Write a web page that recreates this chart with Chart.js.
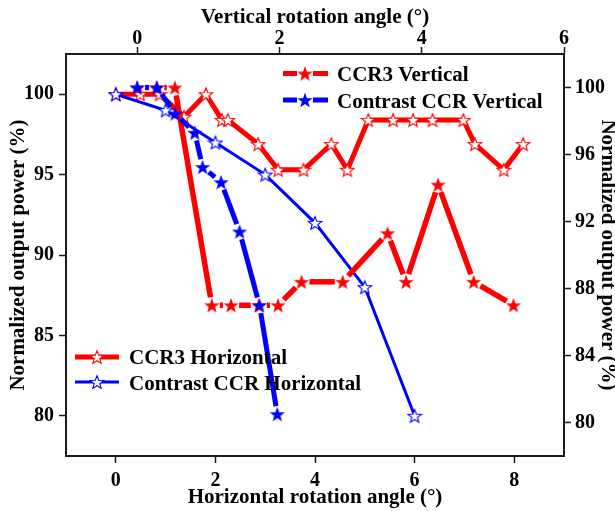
<!DOCTYPE html>
<html>
<head>
<meta charset="utf-8">
<script src="https://cdn.jsdelivr.net/npm/chart.js@4.4.1/dist/chart.umd.min.js"></script>
<style>
html,body{margin:0;padding:0;background:#fff;}
#wrap{position:relative;width:615px;height:511px;}
</style>
</head>
<body>
<div id="wrap"><canvas id="c" width="615" height="511"></canvas></div>
<script>
// ---- data ----
// Horizontal series: bottom axis (horizontal angle) vs left axis
const hAngleCCR3 = [0, 0.49, 0.88, 1.37, 1.81, 2.13, 2.25, 2.86, 3.26, 3.77, 4.33, 4.65, 5.07, 5.57, 5.97, 6.36, 6.98, 7.21, 7.79, 8.18];
const hPowerCCR3 = [100, 100, 100, 98.6, 100, 98.4, 98.4, 96.9, 95.3, 95.3, 96.9, 95.3, 98.4, 98.4, 98.4, 98.4, 98.4, 96.9, 95.3, 96.9];
const hAngleContrast = [0, 1, 2, 3, 4, 5, 6];
const hPowerContrast = [100, 99, 97, 95, 92, 88, 80];
// Vertical series: top axis (vertical angle) vs right axis
const vAngleCCR3 = [0, 0.27, 0.53, 1.05, 1.32, 1.71, 1.98, 2.31, 2.89, 3.52, 3.78, 4.23, 4.73, 5.29];
const vPowerCCR3 = [100, 100, 100, 87, 87, 87, 87, 88.4, 88.4, 91.3, 88.4, 94.2, 88.4, 87];
const vAngleContrast = [0, 0.28, 0.535, 0.81, 0.92, 1.18, 1.44, 1.72, 1.97];
const vPowerContrast = [100, 100, 98.45, 97.3, 95.25, 94.35, 91.4, 87.0, 80.5];

const bottomTicks = [0, 2, 4, 6, 8];
const topTicks = [0, 2, 4, 6];
const leftTicks = [80, 85, 90, 95, 100];
const rightTicks = [80, 84, 88, 92, 96, 100];

const seriesNames = ['CCR3 Vertical', 'Contrast CCR Vertical', 'CCR3 Horizontal', 'Contrast CCR Horizontal'];
const axisTitles = {
  bottom: 'Horizontal rotation angle (°)',
  top: 'Vertical rotation angle (°)',
  left: 'Normalized output power (%)',
  right: 'Normalized output power (%)'
};

// ---- styling ----
const RED = '#ff0000', BLUE = '#0000ff', AX = '#1a1a1a';
const FAM = '"Liberation Serif", "Times New Roman", serif';

function starCanvas(size, R, r, fill, stroke, lw) {
  const c = document.createElement('canvas');
  c.width = c.height = size;
  const g = c.getContext('2d');
  const cx = size / 2, cy = size / 2 + R * 0.1;
  g.beginPath();
  for (let i = 0; i < 10; i++) {
    const a = -Math.PI / 2 + i * Math.PI / 5;
    const rad = i % 2 === 0 ? R : r;
    g.lineTo(cx + rad * Math.cos(a), cy + rad * Math.sin(a));
  }
  g.closePath();
  g.fillStyle = fill;
  g.fill();
  if (stroke) { g.strokeStyle = stroke; g.lineWidth = lw; g.lineJoin = 'miter'; g.stroke(); }
  return c;
}
const starRedFilled = starCanvas(18, 8, 3.3, RED);
const starBlueFilled = starCanvas(18, 8, 3.3, BLUE);
const starRedHollow = starCanvas(16, 7, 3, '#fff', RED, 1.1);
const starBlueHollow = starCanvas(16, 7, 3, '#fff', BLUE, 1.1);

const pts = (xs, ys) => xs.map((x, i) => ({x: x, y: ys[i]}));

// Lines with a gap next to each symbol (for the vertical series)
const gapLinePlugin = {
  id: 'gapLine',
  beforeDatasetDraw(chart, args) {
    const ds = chart.data.datasets[args.index];
    if (!ds.gapLine) return;
    const els = args.meta.data;
    const ctx = chart.ctx, a = chart.chartArea, gap = ds.gapSize;
    ctx.save();
    ctx.beginPath();
    ctx.rect(a.left, a.top, a.right - a.left, a.bottom - a.top);
    ctx.clip();
    ctx.strokeStyle = ds.gapColor;
    ctx.lineWidth = ds.gapWidth;
    ctx.lineCap = 'butt';
    for (let i = 0; i < els.length - 1; i++) {
      const p = els[i], q = els[i + 1];
      const dx = q.x - p.x, dy = q.y - p.y, L = Math.hypot(dx, dy);
      if (L <= 2 * gap) continue;
      const ux = dx / L, uy = dy / L;
      ctx.beginPath();
      ctx.moveTo(p.x + ux * gap, p.y + uy * gap);
      ctx.lineTo(q.x - ux * gap, q.y - uy * gap);
      ctx.stroke();
    }
    ctx.restore();
  }
};

// Two legend boxes drawn inside the plot
const legendPlugin = {
  id: 'twoLegends',
  afterDraw(chart) {
    const ctx = chart.ctx;
    ctx.save();
    ctx.font = 'bold 21px ' + FAM;
    ctx.fillStyle = '#000';
    ctx.textBaseline = 'alphabetic';
    ctx.textAlign = 'left';
    const gapped = (x0, x1, y, xs, col, w) => {
      ctx.strokeStyle = col; ctx.lineWidth = w; ctx.lineCap = 'butt';
      ctx.beginPath(); ctx.moveTo(x0, y); ctx.lineTo(xs - 8, y); ctx.moveTo(xs + 8, y); ctx.lineTo(x1, y); ctx.stroke();
    };
    const full = (x0, x1, y, col, w) => {
      ctx.strokeStyle = col; ctx.lineWidth = w; ctx.lineCap = 'butt';
      ctx.beginPath(); ctx.moveTo(x0, y); ctx.lineTo(x1, y); ctx.stroke();
    };
    const img = (im, x, y) => ctx.drawImage(im, x - im.width / 2, y - im.height / 2);
    // upper right legend (vertical series)
    gapped(283, 328, 73.5, 305, RED, 5); img(starRedFilled, 305, 73.5);
    ctx.fillText(seriesNames[0], 337, 81);
    gapped(283, 328, 100, 305, BLUE, 5); img(starBlueFilled, 305, 100);
    ctx.fillText(seriesNames[1], 337, 107.5);
    // lower left legend (horizontal series)
    full(75, 119, 357, RED, 5); img(starRedHollow, 97, 357);
    ctx.fillText(seriesNames[2], 129, 364);
    full(75, 119, 382, BLUE, 3); img(starBlueHollow, 97, 382);
    ctx.fillText(seriesNames[3], 129, 389.5);
    ctx.restore();
  }
};

const tickFont = {family: FAM, size: 20, weight: 'bold', lineHeight: 1};
const titleFont = {family: FAM, size: 21, weight: 'bold', lineHeight: 1};
const gridOpts = {display: true, drawOnChartArea: false, drawTicks: true, tickLength: 7, tickColor: AX, tickWidth: 1.5, color: AX};
const borderOpts = {display: true, color: AX, width: 2};
const fixedTicks = arr => (s => { s.ticks = arr.map(v => ({value: v})); });

new Chart(document.getElementById('c'), {
  type: 'line',
  data: {
    datasets: [
      {
        label: seriesNames[1], data: pts(vAngleContrast, vPowerContrast),
        xAxisID: 'x2', yAxisID: 'y2', order: 0,
        showLine: false, gapLine: true, gapColor: BLUE, gapWidth: 5, gapSize: 8,
        pointStyle: starBlueFilled, pointRadius: 8, borderColor: BLUE, backgroundColor: BLUE
      },
      {
        label: seriesNames[0], data: pts(vAngleCCR3, vPowerCCR3),
        xAxisID: 'x2', yAxisID: 'y2', order: 1,
        showLine: false, gapLine: true, gapColor: RED, gapWidth: 5.5, gapSize: 8,
        pointStyle: starRedFilled, pointRadius: 8, borderColor: RED, backgroundColor: RED
      },
      {
        label: seriesNames[3], data: pts(hAngleContrast, hPowerContrast),
        xAxisID: 'x', yAxisID: 'y', order: 2,
        showLine: true, borderColor: BLUE, borderWidth: 3, tension: 0,
        pointStyle: starBlueHollow, pointRadius: 7, backgroundColor: '#fff'
      },
      {
        label: seriesNames[2], data: pts(hAngleCCR3, hPowerCCR3),
        xAxisID: 'x', yAxisID: 'y', order: 3,
        showLine: true, borderColor: RED, borderWidth: 5, tension: 0,
        pointStyle: starRedHollow, pointRadius: 7, backgroundColor: '#fff'
      }
    ]
  },
  options: {
    responsive: false,
    animation: false,
    devicePixelRatio: 1,
    layout: {padding: 0},
    events: [],
    plugins: {legend: {display: false}, tooltip: {enabled: false}},
    scales: {
      x: {
        type: 'linear', position: 'bottom', min: -1, max: 9,
        afterBuildTicks: fixedTicks(bottomTicks), afterFit: s => { s.height = 55; },
        grid: gridOpts, border: borderOpts,
        ticks: {font: tickFont, color: '#000', padding: 8, maxRotation: 0, autoSkip: false},
        title: {display: true, text: axisTitles.bottom, font: titleFont, color: '#000', padding: {top: 0, bottom: 3}}
      },
      x2: {
        type: 'linear', position: 'top', min: -1, max: 6,
        afterBuildTicks: fixedTicks(topTicks), afterFit: s => { s.height = 54; },
        grid: gridOpts, border: borderOpts,
        ticks: {font: tickFont, color: '#000', padding: -1.5, maxRotation: 0, autoSkip: false},
        title: {display: true, text: axisTitles.top, font: titleFont, color: '#000', padding: {top: 7, bottom: 0}}
      },
      y: {
        type: 'linear', position: 'left', min: 77.5, max: 102.5,
        afterBuildTicks: fixedTicks(leftTicks), afterFit: s => { s.width = 66; },
        grid: gridOpts, border: borderOpts,
        ticks: {font: tickFont, color: '#000', padding: 5, autoSkip: false},
        title: {display: true, text: axisTitles.left, font: titleFont, color: '#000', padding: {top: 8, bottom: 0}}
      },
      y2: {
        type: 'linear', position: 'right', min: 78, max: 102,
        afterBuildTicks: fixedTicks(rightTicks), afterFit: s => { s.width = 51; },
        grid: gridOpts, border: borderOpts,
        ticks: {font: tickFont, color: '#000', padding: 4, autoSkip: false},
        title: {display: true, text: axisTitles.right, font: titleFont, color: '#000', padding: {top: -2.5, bottom: 0}}
      }
    }
  },
  plugins: [gapLinePlugin, legendPlugin]
});
</script>
</body>
</html>
